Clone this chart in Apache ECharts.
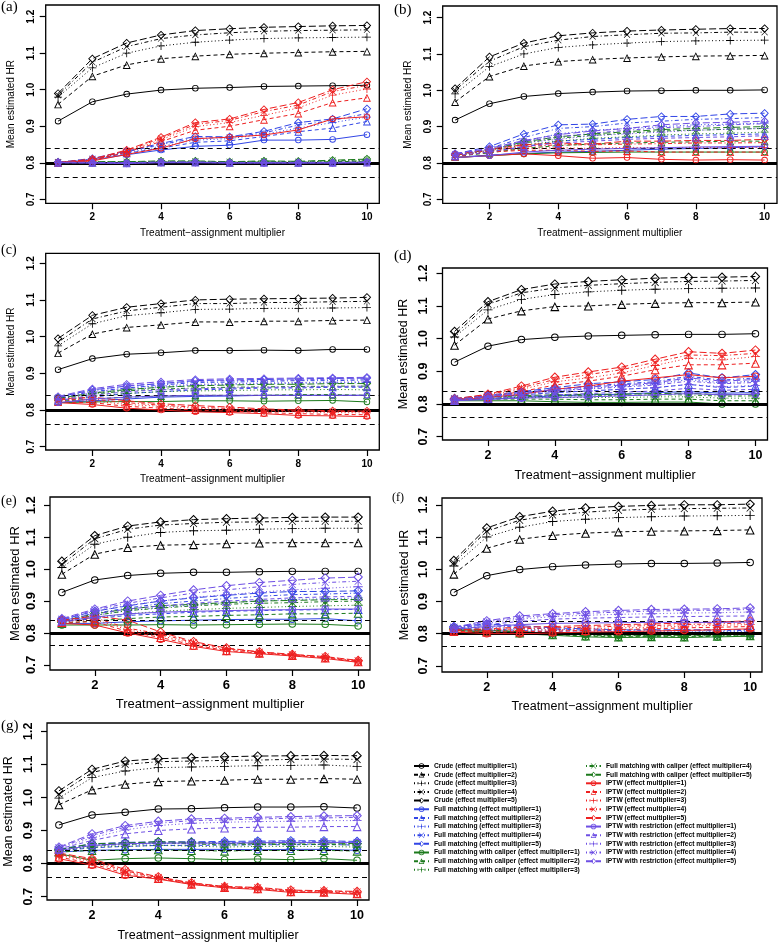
<!DOCTYPE html>
<html><head><meta charset="utf-8">
<script src="https://cdn.jsdelivr.net/npm/echarts@6/dist/echarts.min.js"></script>
<style>html,body{margin:0;padding:0;background:#fff}#c{width:778px;height:942px}</style>
</head><body><div id="c"></div><script>
// ---------------- data ----------------
const X = [1,2,3,4,5,6,7,8,9,10];
const Y_TICKS = [0.7,0.8,0.9,1.0,1.1,1.2];
const X_TICKS = [2,4,6,8,10];
const METHODS = ['Crude','Full matching','Full matching with caliper','IPTW','IPTW with restriction'];
const EFFECT_MULT = [1,2,3,4,5];
const REF_LINES = [0.8, 0.84, 0.76];

// Panel (a)
const A_CRUDE = [
 [0.914,0.967,0.988,0.999,1.004,1.006,1.009,1.010,1.011,1.012],
 [0.960,1.037,1.068,1.085,1.092,1.097,1.100,1.102,1.104,1.105],
 [0.980,1.060,1.100,1.120,1.130,1.136,1.140,1.142,1.143,1.144],
 [0.985,1.075,1.118,1.140,1.150,1.156,1.160,1.162,1.163,1.164],
 [0.990,1.085,1.128,1.150,1.162,1.167,1.171,1.173,1.175,1.176]];
const A_FM = [
 [0.800,0.808,0.822,0.835,0.845,0.848,0.862,0.862,0.864,0.877],
 [0.800,0.809,0.826,0.840,0.856,0.860,0.872,0.885,0.895,0.913],
 [0.800,0.810,0.828,0.845,0.862,0.866,0.878,0.895,0.910,0.925],
 [0.801,0.811,0.830,0.850,0.867,0.869,0.882,0.903,0.916,0.935],
 [0.801,0.812,0.832,0.853,0.872,0.871,0.886,0.910,0.920,0.948]];
const A_FMC = [
 [0.800,0.800,0.800,0.801,0.801,0.800,0.801,0.800,0.801,0.802],
 [0.801,0.801,0.801,0.802,0.802,0.801,0.802,0.801,0.803,0.804],
 [0.801,0.802,0.802,0.803,0.803,0.802,0.803,0.802,0.804,0.806],
 [0.802,0.802,0.803,0.804,0.804,0.803,0.804,0.803,0.806,0.808],
 [0.802,0.803,0.803,0.805,0.805,0.803,0.805,0.804,0.807,0.810]];
const A_IPTW = [
 [0.800,0.805,0.823,0.840,0.866,0.870,0.876,0.890,0.920,0.926],
 [0.800,0.807,0.829,0.858,0.889,0.900,0.918,0.935,0.965,0.978],
 [0.800,0.808,0.831,0.863,0.899,0.910,0.930,0.950,0.985,1.002],
 [0.801,0.809,0.833,0.867,0.905,0.916,0.940,0.958,0.995,1.012],
 [0.801,0.810,0.835,0.870,0.910,0.920,0.946,0.965,1.000,1.022]];
const A_IPTWR = [
 [0.800,0.799,0.798,0.800,0.800,0.799,0.799,0.799,0.799,0.800],
 [0.800,0.800,0.799,0.801,0.801,0.800,0.800,0.800,0.800,0.801],
 [0.801,0.800,0.799,0.801,0.801,0.800,0.800,0.800,0.800,0.801],
 [0.801,0.801,0.800,0.802,0.802,0.800,0.801,0.801,0.801,0.802],
 [0.802,0.801,0.800,0.802,0.802,0.801,0.801,0.801,0.801,0.802]];

// Panel (b)
const B_CRUDE = [
 [0.918,0.963,0.983,0.991,0.995,0.998,0.999,1.000,1.000,1.001],
 [0.968,1.038,1.067,1.079,1.085,1.089,1.092,1.094,1.095,1.096],
 [0.990,1.065,1.100,1.118,1.125,1.130,1.134,1.136,1.137,1.138],
 [1.000,1.080,1.120,1.138,1.148,1.153,1.157,1.158,1.160,1.160],
 [1.005,1.092,1.130,1.150,1.158,1.163,1.166,1.168,1.170,1.170]];
const B_FM = [
 [0.815,0.822,0.826,0.830,0.832,0.835,0.838,0.840,0.842,0.845],
 [0.818,0.830,0.845,0.860,0.865,0.870,0.873,0.876,0.878,0.880],
 [0.820,0.835,0.860,0.880,0.890,0.895,0.900,0.905,0.907,0.910],
 [0.822,0.840,0.870,0.895,0.900,0.910,0.915,0.920,0.922,0.925],
 [0.825,0.845,0.880,0.905,0.907,0.920,0.928,0.928,0.935,0.937]];
const B_FMC = [
 [0.815,0.820,0.825,0.828,0.829,0.830,0.830,0.830,0.830,0.830],
 [0.818,0.828,0.840,0.848,0.852,0.855,0.857,0.858,0.860,0.860],
 [0.820,0.832,0.850,0.860,0.868,0.872,0.877,0.880,0.882,0.885],
 [0.822,0.835,0.855,0.868,0.876,0.882,0.888,0.890,0.893,0.895],
 [0.823,0.836,0.858,0.872,0.880,0.886,0.892,0.895,0.898,0.900]];
const B_IPTW = [
 [0.815,0.820,0.825,0.820,0.813,0.815,0.810,0.808,0.809,0.808],
 [0.818,0.830,0.835,0.835,0.832,0.833,0.830,0.830,0.830,0.830],
 [0.820,0.832,0.840,0.842,0.840,0.843,0.842,0.843,0.842,0.843],
 [0.822,0.835,0.845,0.850,0.850,0.852,0.853,0.855,0.855,0.856],
 [0.823,0.838,0.850,0.855,0.852,0.860,0.860,0.862,0.862,0.865]];
const B_IPTWR = [
 [0.815,0.820,0.830,0.835,0.838,0.840,0.842,0.844,0.845,0.846],
 [0.820,0.830,0.845,0.855,0.860,0.865,0.868,0.870,0.872,0.875],
 [0.822,0.835,0.855,0.865,0.875,0.880,0.885,0.890,0.893,0.895],
 [0.824,0.838,0.860,0.872,0.882,0.890,0.897,0.900,0.905,0.908],
 [0.826,0.840,0.862,0.878,0.888,0.895,0.905,0.910,0.912,0.915]];

// Panel (c)
const C_CRUDE = [
 [0.910,0.940,0.952,0.956,0.962,0.962,0.963,0.962,0.965,0.965],
 [0.955,1.007,1.025,1.032,1.040,1.040,1.042,1.042,1.044,1.045],
 [0.975,1.035,1.057,1.065,1.074,1.075,1.077,1.077,1.078,1.079],
 [0.985,1.048,1.070,1.080,1.090,1.090,1.093,1.093,1.095,1.096],
 [0.995,1.058,1.080,1.090,1.100,1.102,1.103,1.104,1.105,1.107]];
const C_FM = [
 [0.820,0.825,0.830,0.835,0.837,0.838,0.840,0.840,0.840,0.840],
 [0.825,0.835,0.845,0.850,0.855,0.857,0.860,0.860,0.862,0.862],
 [0.830,0.845,0.855,0.862,0.868,0.870,0.872,0.873,0.874,0.875],
 [0.833,0.850,0.860,0.868,0.875,0.876,0.878,0.880,0.880,0.882],
 [0.835,0.855,0.865,0.872,0.880,0.882,0.883,0.885,0.886,0.887]];
const C_FMC = [
 [0.820,0.822,0.823,0.823,0.825,0.825,0.824,0.825,0.826,0.822],
 [0.823,0.830,0.835,0.838,0.840,0.840,0.840,0.842,0.842,0.840],
 [0.826,0.838,0.845,0.850,0.852,0.853,0.855,0.855,0.856,0.855],
 [0.830,0.843,0.852,0.857,0.860,0.862,0.863,0.864,0.865,0.865],
 [0.832,0.846,0.856,0.862,0.866,0.868,0.870,0.870,0.872,0.872]];
const C_IPTW = [
 [0.820,0.815,0.805,0.800,0.795,0.793,0.790,0.785,0.784,0.782],
 [0.822,0.820,0.810,0.805,0.800,0.797,0.793,0.790,0.788,0.787],
 [0.825,0.825,0.815,0.810,0.805,0.800,0.797,0.795,0.793,0.792],
 [0.828,0.830,0.820,0.813,0.808,0.804,0.800,0.797,0.796,0.795],
 [0.830,0.835,0.825,0.817,0.812,0.808,0.803,0.800,0.798,0.797]];
const C_IPTWR = [
 [0.820,0.830,0.835,0.838,0.840,0.840,0.840,0.840,0.840,0.840],
 [0.826,0.840,0.850,0.855,0.858,0.860,0.862,0.862,0.864,0.865],
 [0.830,0.848,0.860,0.866,0.870,0.872,0.874,0.875,0.876,0.877],
 [0.834,0.853,0.866,0.872,0.878,0.880,0.881,0.882,0.884,0.885],
 [0.837,0.858,0.870,0.877,0.883,0.885,0.886,0.887,0.888,0.889]];

// Panel (d)
const D_CRUDE = [
 [0.928,0.977,0.997,1.004,1.008,1.010,1.012,1.013,1.013,1.015],
 [0.980,1.060,1.085,1.098,1.100,1.105,1.108,1.110,1.110,1.112],
 [1.005,1.088,1.120,1.135,1.143,1.148,1.151,1.153,1.154,1.155],
 [1.012,1.105,1.140,1.155,1.163,1.168,1.172,1.175,1.176,1.178],
 [1.022,1.113,1.150,1.167,1.175,1.180,1.185,1.187,1.188,1.190]];
const D_FM = [
 [0.812,0.815,0.820,0.825,0.828,0.830,0.835,0.838,0.833,0.835],
 [0.814,0.820,0.828,0.835,0.840,0.845,0.850,0.860,0.850,0.855],
 [0.815,0.823,0.832,0.840,0.848,0.855,0.862,0.875,0.865,0.870],
 [0.816,0.825,0.835,0.845,0.855,0.862,0.868,0.885,0.873,0.880],
 [0.817,0.827,0.838,0.850,0.862,0.868,0.875,0.895,0.880,0.890]];
const D_FMC = [
 [0.810,0.810,0.810,0.807,0.805,0.805,0.806,0.806,0.800,0.800],
 [0.812,0.815,0.815,0.815,0.813,0.813,0.815,0.815,0.810,0.810],
 [0.813,0.818,0.820,0.820,0.820,0.820,0.822,0.822,0.818,0.818],
 [0.814,0.820,0.823,0.825,0.825,0.826,0.828,0.828,0.824,0.825],
 [0.815,0.822,0.826,0.828,0.830,0.830,0.832,0.833,0.828,0.830]];
const D_IPTW = [
 [0.812,0.820,0.830,0.845,0.855,0.870,0.880,0.890,0.880,0.885],
 [0.813,0.822,0.838,0.858,0.870,0.885,0.905,0.920,0.920,0.925],
 [0.814,0.825,0.845,0.868,0.880,0.895,0.918,0.940,0.935,0.945],
 [0.815,0.828,0.850,0.875,0.890,0.905,0.928,0.950,0.948,0.955],
 [0.816,0.830,0.855,0.882,0.898,0.913,0.937,0.960,0.955,0.965]];
const D_IPTWR = [
 [0.810,0.814,0.818,0.820,0.822,0.825,0.828,0.832,0.828,0.830],
 [0.811,0.817,0.823,0.828,0.832,0.836,0.840,0.848,0.842,0.845],
 [0.812,0.820,0.828,0.835,0.840,0.845,0.850,0.860,0.853,0.857],
 [0.813,0.822,0.832,0.840,0.846,0.852,0.858,0.870,0.862,0.866],
 [0.814,0.824,0.835,0.844,0.852,0.858,0.865,0.880,0.870,0.875]];

// Panel (e)
const E_CRUDE = [
 [0.927,0.966,0.980,0.987,0.990,0.990,0.992,0.993,0.993,0.993],
 [0.984,1.047,1.068,1.075,1.077,1.080,1.082,1.083,1.083,1.083],
 [1.005,1.078,1.100,1.115,1.120,1.122,1.125,1.127,1.128,1.128],
 [1.015,1.095,1.125,1.138,1.143,1.147,1.148,1.150,1.150,1.150],
 [1.025,1.105,1.135,1.148,1.155,1.158,1.160,1.162,1.163,1.163]];
const E_FM = [
 [0.830,0.830,0.835,0.838,0.840,0.842,0.843,0.843,0.845,0.838],
 [0.835,0.845,0.855,0.860,0.865,0.868,0.870,0.872,0.873,0.874],
 [0.838,0.855,0.870,0.880,0.888,0.895,0.900,0.905,0.907,0.910],
 [0.840,0.862,0.878,0.892,0.900,0.908,0.915,0.920,0.922,0.925],
 [0.842,0.868,0.885,0.900,0.910,0.918,0.925,0.930,0.930,0.932]];
const E_FMC = [
 [0.825,0.825,0.825,0.826,0.825,0.826,0.827,0.828,0.827,0.822],
 [0.830,0.838,0.845,0.850,0.852,0.855,0.857,0.860,0.860,0.862],
 [0.833,0.848,0.860,0.868,0.873,0.877,0.880,0.883,0.885,0.887],
 [0.836,0.855,0.870,0.878,0.885,0.890,0.893,0.895,0.898,0.900],
 [0.838,0.860,0.875,0.885,0.890,0.895,0.900,0.902,0.904,0.905]];
const E_IPTW = [
 [0.830,0.825,0.800,0.780,0.758,0.742,0.735,0.728,0.720,0.708],
 [0.833,0.835,0.805,0.786,0.762,0.745,0.737,0.730,0.722,0.710],
 [0.836,0.842,0.810,0.792,0.766,0.748,0.738,0.731,0.724,0.712],
 [0.838,0.848,0.815,0.797,0.770,0.751,0.740,0.732,0.725,0.713],
 [0.840,0.853,0.840,0.803,0.773,0.753,0.741,0.733,0.726,0.714]];
const E_IPTWR = [
 [0.835,0.850,0.860,0.865,0.868,0.870,0.872,0.873,0.875,0.875],
 [0.838,0.860,0.875,0.885,0.893,0.900,0.905,0.910,0.913,0.915],
 [0.841,0.868,0.887,0.900,0.912,0.920,0.928,0.935,0.940,0.945],
 [0.843,0.872,0.893,0.910,0.925,0.935,0.945,0.952,0.958,0.962],
 [0.845,0.875,0.900,0.918,0.935,0.948,0.958,0.965,0.972,0.975]];

// Panel (f)
const F_CRUDE = [
 [0.928,0.980,0.999,1.008,1.013,1.016,1.018,1.018,1.019,1.021],
 [0.985,1.065,1.093,1.105,1.112,1.116,1.118,1.119,1.120,1.122],
 [1.010,1.100,1.130,1.148,1.155,1.160,1.163,1.165,1.166,1.167],
 [1.020,1.118,1.152,1.168,1.177,1.183,1.186,1.188,1.189,1.190],
 [1.027,1.128,1.163,1.180,1.190,1.195,1.198,1.200,1.200,1.202]];
const F_FM = [
 [0.812,0.810,0.806,0.802,0.800,0.800,0.800,0.800,0.800,0.800],
 [0.815,0.815,0.810,0.806,0.804,0.803,0.803,0.803,0.803,0.804],
 [0.818,0.820,0.815,0.810,0.808,0.806,0.806,0.806,0.806,0.807],
 [0.820,0.825,0.820,0.814,0.811,0.809,0.809,0.809,0.809,0.810],
 [0.822,0.830,0.825,0.818,0.815,0.812,0.812,0.812,0.812,0.813]];
const F_FMC = [
 [0.810,0.805,0.800,0.795,0.790,0.788,0.789,0.788,0.790,0.792],
 [0.812,0.807,0.802,0.797,0.793,0.790,0.791,0.790,0.792,0.794],
 [0.814,0.809,0.804,0.799,0.795,0.792,0.793,0.792,0.794,0.796],
 [0.815,0.810,0.805,0.800,0.796,0.794,0.794,0.794,0.795,0.797],
 [0.816,0.812,0.806,0.801,0.797,0.795,0.795,0.795,0.796,0.798]];
const F_IPTW = [
 [0.805,0.800,0.800,0.802,0.805,0.806,0.808,0.810,0.812,0.815],
 [0.807,0.805,0.806,0.808,0.810,0.813,0.815,0.818,0.820,0.822],
 [0.808,0.808,0.810,0.812,0.815,0.818,0.820,0.823,0.826,0.828],
 [0.810,0.812,0.815,0.818,0.820,0.823,0.825,0.828,0.831,0.833],
 [0.812,0.815,0.820,0.822,0.825,0.828,0.830,0.833,0.836,0.840]];
const F_IPTWR = [
 [0.814,0.822,0.828,0.832,0.833,0.834,0.835,0.835,0.835,0.836],
 [0.816,0.828,0.838,0.845,0.848,0.850,0.852,0.853,0.854,0.855],
 [0.818,0.833,0.845,0.853,0.857,0.860,0.862,0.864,0.865,0.867],
 [0.819,0.837,0.850,0.858,0.863,0.867,0.870,0.872,0.873,0.875],
 [0.820,0.840,0.855,0.862,0.868,0.872,0.875,0.876,0.877,0.880]];

// Panel (g)
const G_CRUDE = [
 [0.917,0.947,0.955,0.965,0.966,0.969,0.971,0.971,0.972,0.968],
 [0.978,1.023,1.040,1.048,1.050,1.052,1.055,1.055,1.057,1.055],
 [0.998,1.060,1.080,1.090,1.092,1.094,1.096,1.097,1.098,1.094],
 [1.010,1.075,1.100,1.108,1.110,1.112,1.113,1.115,1.116,1.115],
 [1.020,1.085,1.110,1.117,1.120,1.123,1.125,1.126,1.127,1.126]];
const G_FM = [
 [0.835,0.840,0.842,0.843,0.843,0.843,0.842,0.843,0.843,0.840],
 [0.838,0.848,0.852,0.855,0.855,0.856,0.857,0.857,0.858,0.856],
 [0.840,0.853,0.857,0.860,0.860,0.861,0.862,0.862,0.863,0.861],
 [0.842,0.856,0.861,0.863,0.863,0.864,0.865,0.866,0.866,0.864],
 [0.844,0.860,0.864,0.866,0.866,0.867,0.868,0.869,0.869,0.867]];
const G_FMC = [
 [0.830,0.810,0.815,0.817,0.815,0.812,0.814,0.812,0.815,0.810],
 [0.835,0.840,0.840,0.842,0.840,0.838,0.840,0.840,0.840,0.838],
 [0.838,0.850,0.852,0.855,0.853,0.850,0.852,0.852,0.852,0.850],
 [0.840,0.855,0.858,0.862,0.860,0.856,0.858,0.858,0.858,0.856],
 [0.842,0.860,0.862,0.866,0.864,0.860,0.862,0.862,0.863,0.860]];
const G_IPTW = [
 [0.815,0.795,0.765,0.753,0.737,0.727,0.722,0.713,0.712,0.707],
 [0.820,0.800,0.770,0.755,0.738,0.728,0.724,0.715,0.714,0.709],
 [0.825,0.806,0.775,0.757,0.740,0.729,0.726,0.717,0.716,0.712],
 [0.828,0.810,0.778,0.758,0.741,0.730,0.727,0.718,0.717,0.714],
 [0.832,0.815,0.782,0.760,0.742,0.731,0.728,0.720,0.718,0.716]];
const G_IPTWR = [
 [0.840,0.855,0.860,0.862,0.862,0.862,0.863,0.864,0.864,0.864],
 [0.844,0.870,0.890,0.900,0.905,0.908,0.910,0.910,0.912,0.912],
 [0.846,0.878,0.902,0.915,0.922,0.925,0.927,0.928,0.930,0.930],
 [0.848,0.885,0.910,0.922,0.930,0.932,0.935,0.937,0.938,0.940],
 [0.850,0.890,0.915,0.928,0.935,0.937,0.940,0.942,0.944,0.945]];

// ---------------- layout & style ----------------
const FONT = '"Liberation Sans", Arial, Helvetica, sans-serif';
const COLORS = ['#000000', '#3246e6', '#1c7a1c', '#ee2020', '#6e4fe4'];
const DASHES = ['solid', [4,3], [1,2.5], [1,2.5,4,2.5], [7,3]];
const SYMBOLS = [
 'path://M10,0A10,10,0,1,1,10,20A10,10,0,1,1,10,0ZM10,2.6A7.4,7.4,0,1,0,10,17.4A7.4,7.4,0,1,0,10,2.6Z',
 'path://M10,0L20,18L0,18ZM10,4.3L3.6,15.9L16.4,15.9Z',
 'path://M9,0H11V9H20V11H11V20H9V11H0V9H9Z',
 'path://M0,1.4L1.4,0L10,8.6L18.6,0L20,1.4L11.4,10L20,18.6L18.6,20L10,11.4L1.4,20L0,18.6L8.6,10Z',
 'path://M10,0L20,10L10,20L0,10ZM10,2.9L2.9,10L10,17.1L17.1,10Z'];
const SYM_SIZE = [6.5, 8, 8, 6.5, 8.5];

const PANELS = [
 {tag:'(a)', data:[A_CRUDE,A_FM,A_FMC,A_IPTW,A_IPTWR], box:[45.7,5,379.3,203.3], y:[0.689,1.232], fs:10, sc:1, ym:9, yng:29, xng:25, tagPos:[1,0], tagFs:15},
 {tag:'(b)', data:[B_CRUDE,B_FM,B_FMC,B_IPTW,B_IPTWR], box:[442.7,6,777,203.3], y:[0.689,1.232], fs:10, sc:1, ym:9, yng:29, xng:25, tagPos:[394,3], tagFs:15},
 {tag:'(c)', data:[C_CRUDE,C_FM,C_FMC,C_IPTW,C_IPTWR], box:[45.7,253.3,379.3,450], y:[0.691,1.227], fs:10, sc:1, ym:9, yng:29, xng:24, tagPos:[1,243], tagFs:14},
 {tag:'(d)', data:[D_CRUDE,D_FM,D_FMC,D_IPTW,D_IPTWR], box:[442.5,268,767.5,440], y:[0.690,1.216], fs:12.5, sc:1.15, ym:12, yng:32, xng:29, tagPos:[394,249], tagFs:15},
 {tag:'(e)', data:[E_CRUDE,E_FM,E_FMC,E_IPTW,E_IPTWR], box:[50,497,370,670], y:[0.684,1.226], fs:13, sc:1.15, ym:12, yng:28, xng:28, tagPos:[1,494], tagFs:14},
 {tag:'(f)', data:[F_CRUDE,F_FM,F_FMC,F_IPTW,F_IPTWR], box:[442,498,762,672], y:[0.681,1.221], fs:12.5, sc:1.15, ym:12, yng:31, xng:28, tagPos:[392,492], tagFs:12},
 {tag:'(g)', data:[G_CRUDE,G_FM,G_FMC,G_IPTW,G_IPTWR], box:[47,723,369,900], y:[0.690,1.225], fs:12.5, sc:1.15, ym:12, yng:32, xng:29, tagPos:[1,719], tagFs:15}
];

const grids = [], xAxes = [], yAxes = [], series = [], graphics = [];
PANELS.forEach((p, pi) => {
  const [l, t, r, b] = p.box;
  grids.push({left:l, top:t, width:r-l, height:b-t, show:true, borderColor:'#000', borderWidth:1.3,
              backgroundColor:'transparent', outerBoundsMode:'none'});
  xAxes.push({gridIndex:pi, type:'value', min:0.64, max:10.36,
    name:'Treatment\u2212assignment multiplier', nameLocation:'middle', nameGap: p.xng,
    nameTextStyle:{color:'#000', fontSize:p.fs, fontFamily:FONT},
    axisLine:{show:false}, splitLine:{show:false},
    axisTick:{show:true, length:6, customValues:X_TICKS, lineStyle:{color:'#000', width:1.2}},
    axisLabel:{customValues:X_TICKS, color:'#000', fontSize:p.fs, fontFamily:FONT, fontWeight:'bold', margin:9}});
  yAxes.push({gridIndex:pi, type:'value', min:p.y[0], max:p.y[1],
    name:'Mean estimated HR', nameLocation:'middle', nameGap: p.yng,
    nameTextStyle:{color:'#000', fontSize:p.fs, fontFamily:FONT},
    axisLine:{show:false}, splitLine:{show:false},
    axisTick:{show:true, length:6, customValues:Y_TICKS, lineStyle:{color:'#000', width:1.2}},
    axisLabel:{customValues:Y_TICKS, rotate:90, color:'#000', fontSize:p.fs, fontFamily:FONT, fontWeight:'bold', margin:p.ym,
      formatter: v => v.toFixed(1)}});
  series.push({type:'line', name:'ref', xAxisIndex:pi, yAxisIndex:pi, data:[], silent:true, z:1,
    markLine:{silent:true, symbol:'none', animation:false, label:{show:false},
      data: REF_LINES.map((v, k) => ({yAxis:v, lineStyle:{color:'#000', width:k===0?3.2:1.1, type:k===0?'solid':[5,4]}}))}});
  p.data.forEach((arr, m) => {
    arr.forEach((vals, e) => {
      series.push({type:'line', name:`${METHODS[m]} (effect multiplier=${EFFECT_MULT[e]})`,
        xAxisIndex:pi, yAxisIndex:pi, z:2+m,
        data: X.map((x, i) => [x, vals[i]]),
        symbol: SYMBOLS[e], symbolSize: SYM_SIZE[e]*p.sc, showSymbol:true,
        itemStyle:{color:COLORS[m]}, lineStyle:{color:COLORS[m], width:1, type:DASHES[e]},
        emphasis:{disabled:true}, animation:false});
    });
  });
  graphics.push({type:'text', left:p.tagPos[0], top:p.tagPos[1],
    style:{text:p.tag, font:`${p.tagFs}px "Liberation Serif", "Times New Roman", serif`, fill:'#000'}});
});

const allNames = [];
METHODS.forEach(m => EFFECT_MULT.forEach(e => allNames.push(`${m} (effect multiplier=${e})`)));
const legendBase = {orient:'vertical', itemWidth:15, itemHeight:7, itemGap:0.65, padding:0, selectedMode:false,
  textStyle:{fontSize:6.7, fontWeight:'bold', fontFamily:FONT, color:'#000', lineHeight:8}};

const chart = echarts.init(document.getElementById('c'), null, {renderer:'canvas'});
chart.setOption({
  animation:false,
  backgroundColor:'#fff',
  grid:grids, xAxis:xAxes, yAxis:yAxes, series:series, graphic:graphics,
  legend:[
    Object.assign({}, legendBase, {left:413, top:762, data:allNames.slice(0,13)}),
    Object.assign({}, legendBase, {left:585, top:762, data:allNames.slice(13)})
  ]
});
</script></body></html>
